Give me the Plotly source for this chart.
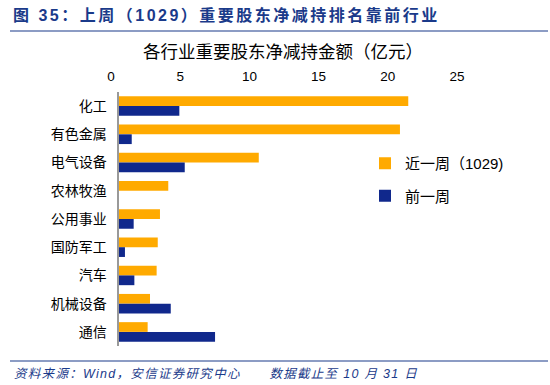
import plotly.graph_objects as go

categories = ["化工", "有色金属", "电气设备", "农林牧渔", "公用事业", "国防军工", "汽车", "机械设备", "通信"]
recent_week = [20.9, 20.3, 10.1, 3.56, 2.96, 2.8, 2.72, 2.24, 2.07]
prev_week = [4.36, 0.92, 4.75, 0.0, 1.06, 0.43, 1.11, 3.74, 6.94]
series_names = ["近一周（1029)", "前一周"]
x_ticks = [0, 5, 10, 15, 20, 25]

ORANGE = "#FFAA00"
BLUE = "#10288C"
DARK = "#1A3A8A"
FONT = "Liberation Sans, Noto Sans CJK SC"

L, R, T, B = 119, 465, 92, 346
PW, PH = R - L, B - T


def px(x):
    return (x - L) / PW


def py(y):
    return (B - y) / PH


fig = go.Figure()
fig.add_trace(go.Bar(y=categories, x=recent_week, orientation="h", name=series_names[0],
                     marker=dict(color=ORANGE, line=dict(width=0)), legendgroup="a"))
fig.add_trace(go.Bar(y=categories, x=prev_week, orientation="h", name=series_names[1],
                     marker=dict(color=BLUE, line=dict(width=0)), legendgroup="b"))

fig.update_layout(
    width=550, height=385,
    margin=dict(l=L, r=550 - R, t=T, b=385 - B),
    paper_bgcolor="white", plot_bgcolor="white",
    barmode="group", bargap=0.31, bargroupgap=0,
    font=dict(family=FONT, size=13, color="#000000"),
    xaxis=dict(range=[0, 25], tickvals=x_ticks, side="top", showgrid=False,
               zeroline=False, showline=False, ticks="", tickfont=dict(size=13.5),
               ticklabelshift=-8, ticklabelstandoff=7),
    yaxis=dict(autorange="reversed", showgrid=False, zeroline=False,
               showline=True, linecolor="#999999", linewidth=1.5, ticks="",
               ticksuffix="  ", tickfont=dict(size=14)),
    legend=dict(x=px(365), y=py(147), xanchor="left", yanchor="top", traceorder="grouped",
                tracegroupgap=10, font=dict(size=15), bgcolor="rgba(0,0,0,0)"),
    showlegend=True,
)

fig.add_annotation(text="<b>图 35：上周（1029）重要股东净减持排名靠前行业</b>", xref="paper", yref="paper",
                   x=px(11), y=py(15), xanchor="left", yanchor="middle", align="left",
                   showarrow=False, font=dict(size=16, color=DARK, family=FONT))
fig.add_annotation(text="各行业重要股东净减持金额（亿元）", xref="paper", yref="paper",
                   x=px(283), y=py(52), xanchor="center", yanchor="middle",
                   showarrow=False, font=dict(size=17.5, color="#000000", family=FONT))
fig.add_annotation(text="<i>资料来源：Wind，安信证券研究中心      数据截止至 10 月 31 日</i>", xref="paper", yref="paper",
                   x=px(12), y=py(374), xanchor="left", yanchor="middle", align="left",
                   showarrow=False, font=dict(size=12.5, color=DARK, family=FONT))

fig.add_shape(type="line", xref="paper", yref="paper", x0=px(10), x1=px(548),
              y0=py(31), y1=py(31), line=dict(color=DARK, width=1.2))
fig.add_shape(type="line", xref="paper", yref="paper", x0=px(10), x1=px(548),
              y0=py(361), y1=py(361), line=dict(color=DARK, width=1.2))

post = """
document.body.style.margin='0';
var a=document.querySelectorAll('.annotation-text');
if(a.length>2){a[0].style.letterSpacing='2.5px'; a[2].style.letterSpacing='1.3px';}
"""
fig.write_html("out.html", post_script=post, config={"displayModeBar": False})
